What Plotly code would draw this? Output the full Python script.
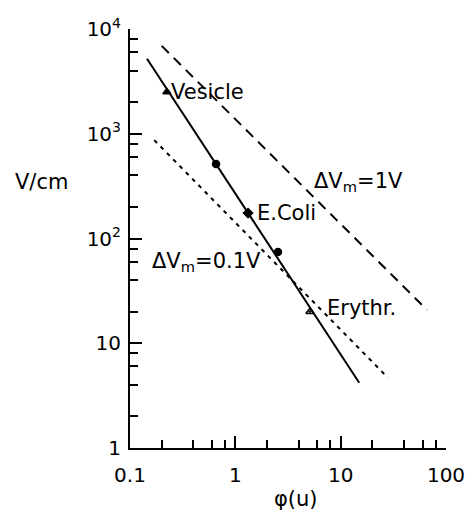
import math
import plotly.graph_objects as go

# fitted line through the cell data
phi_fit = [0.145, 15]
E_fit = [5200, 4.2]
# ΔVm = 1 V line
phi_1V = [0.2, 66]
E_1V = [6900, 20.8]
# ΔVm = 0.1 V line
phi_01V = [0.17, 28]
E_01V = [870, 4.7]
# measured points
phi_pts = [0.224, 0.656, 1.32, 2.54, 5.1]
E_pts = [2510, 515, 175, 74.5, 20]
pt_symbols = ["triangle-up", "circle", "diamond", "circle", "triangle-up-open-dot"]

x_ticks = [0.1, 1, 10, 100]
x_ticklabels = ["0.1", "1", "10", "100"]
y_ticks = [1, 10, 100, 1000, 10000]
y_ticklabels = ["1", "10", "10<sup>2</sup>", "10<sup>3</sup>", "10<sup>4</sup>"]
minor_mult = [2, 4, 6, 8]

x_minor = [m * d for d in [0.1, 1, 10] for m in minor_mult]
y_minor = [m * d for d in [1, 10, 100, 1000] for m in minor_mult]

FONT = "DejaVu Sans"

fig = go.Figure()
fig.add_trace(go.Scatter(x=phi_fit, y=E_fit, mode="lines",
                         line=dict(color="black", width=2), showlegend=False))
fig.add_trace(go.Scatter(x=phi_1V, y=E_1V, mode="lines",
                         line=dict(color="black", width=2, dash="10px,7px"), showlegend=False))
fig.add_trace(go.Scatter(x=phi_01V, y=E_01V, mode="lines",
                         line=dict(color="black", width=2, dash="4px,5px"), showlegend=False))
fig.add_trace(go.Scatter(x=phi_pts, y=E_pts, mode="markers",
                         marker=dict(symbol=pt_symbols, size=7, color="black",
                                     line=dict(color="black", width=1.5)),
                         showlegend=False))

labels = [
    ("Vesicle", 0.224, 2510, 2, 0),
    ("E.Coli", 1.32, 175, 7, 0),
    ("ΔV<sub>m</sub>=1V", 5.35, 347, 0, 0),
    ("ΔV<sub>m</sub>=0.1V", 0.155, 60, 0, 0),
    ("Erythr.", 7.1, 21.8, 0, 0),
]
for txt, x, y, dx, dy in labels:
    fig.add_annotation(x=math.log10(x), y=math.log10(y),
                       text=txt, showarrow=False, xanchor="left", yanchor="middle",
                       xshift=dx, yshift=dy,
                       font=dict(family=FONT, size=21, color="black"))

fig.add_annotation(xref="paper", yref="paper", x=-0.370, y=0.635, text="V/cm",
                   xanchor="left", showarrow=False,
                   font=dict(family=FONT, size=21, color="black"))
fig.add_annotation(xref="paper", yref="paper", x=0.525, y=-0.155, text="φ(u)",
                   showarrow=False, font=dict(family=FONT, size=21, color="black"))

axis_common = dict(
    showgrid=False, zeroline=False, showline=True, linecolor="black", linewidth=2,
    ticks="inside", ticklen=12, tickwidth=2, tickcolor="black", automargin=False,
    tickfont=dict(family=FONT, size=20, color="black"), mirror=False,
)
fig.update_xaxes(type="log", range=[-1, 2], tickmode="array", tickvals=x_ticks,
                 ticktext=x_ticklabels, ticklabelstandoff=8,
                 minor=dict(tickmode="array", tickvals=x_minor, ticks="inside",
                            ticklen=8, tickwidth=2, tickcolor="black"),
                 **axis_common)
fig.update_yaxes(type="log", range=[0, 4], tickmode="array", tickvals=y_ticks,
                 ticktext=y_ticklabels, ticklabelstandoff=3,
                 minor=dict(tickmode="array", tickvals=y_minor, ticks="inside",
                            ticklen=8, tickwidth=2, tickcolor="black"),
                 **axis_common)

fig.update_layout(width=468, height=529, margin=dict(l=130, r=22, t=29, b=81),
                  plot_bgcolor="white", paper_bgcolor="white")
fig.write_html("out.html", config={"displayModeBar": False},
               post_script="document.body.style.margin='0';document.body.style.overflow='hidden';")
